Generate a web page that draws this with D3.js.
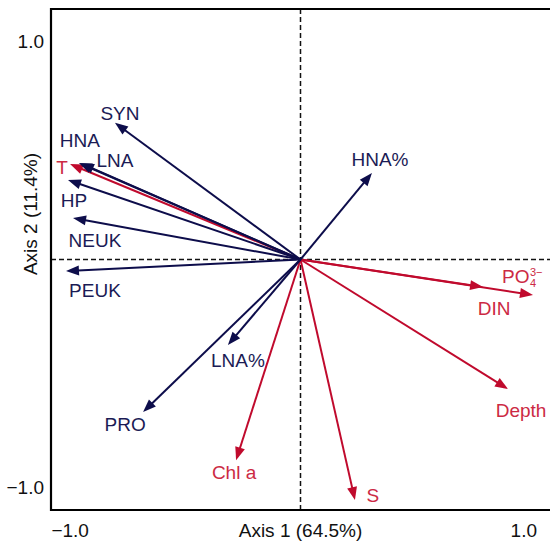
<!DOCTYPE html>
<html>
<head>
<meta charset="utf-8">
<script src="https://cdn.jsdelivr.net/npm/d3@7"></script>
<style>
  body { margin: 0; background: #fff; }
  text { font-family: "Liberation Sans", Arial, sans-serif; }
</style>
</head>
<body>
<div id="chart"></div>
<script>
// biological variables (navy arrows)
var bioNames = ["SYN", "HNA", "LNA", "HP", "NEUK", "PEUK", "HNA%", "LNA%", "PRO"];
var bioAxis1 = [-0.818, -0.977, -0.968, -1.025, -1.003, -1.034, 0.315, -0.320, -0.694];
var bioAxis2 = [0.600, 0.424, 0.422, 0.349, 0.182, -0.051, 0.380, -0.375, -0.670];

// environmental variables (red arrows)
var envNames = ["T", "PO4", "DIN", "Depth", "S", "Chl a"];
var envAxis1 = [-1.016, 1.025, 0.805, 0.915, 0.240, -0.284];
var envAxis2 = [0.419, -0.156, -0.121, -0.569, -1.056, -0.881];

var tickValues = [-1, 1];
var xTitle = "Axis 1 (64.5%)";
var yTitle = "Axis 2 (11.4%)";

// label placement relative to the arrow tip (dx, baseline dy)
var labelOffset = {
  "SYN": [5, -3], "HNA": [1, -16], "LNA": [34, 4], "HP": [6, 27],
  "NEUK": [22, 29], "PEUK": [29, 26], "HNA%": [8, -7], "LNA%": [10, 22],
  "PRO": [-18, 19], "T": [-8, 10], "PO4": [-31, -12], "DIN": [11, 28],
  "Depth": [13, 28], "S": [18, 2], "Chl a": [-2, 19]
};

var navy = "#0d0d4b", navyText = "#1b1b55";
var red = "#c00a2d", redText = "#cc2a44";

function drawArrows(svg, x, y, names, xs, ys, lineColor, textColor) {
  var data = names.map(function(n, i) { return {name: n, a1: xs[i], a2: ys[i]}; });
  var ox = x(0), oy = y(0);
  var headLen = 13, headHalf = 5;

  var g = svg.append("g").attr("class", "arrows");

  g.selectAll(".vec")
    .data(data)
    .enter()
    .append("line")
    .attr("class", "vec")
    .attr("x1", ox)
    .attr("y1", oy)
    .attr("x2", function(d) {
      var dx = x(d.a1) - ox, dy = y(d.a2) - oy, len = Math.sqrt(dx * dx + dy * dy);
      return x(d.a1) - dx / len * 7;
    })
    .attr("y2", function(d) {
      var dx = x(d.a1) - ox, dy = y(d.a2) - oy, len = Math.sqrt(dx * dx + dy * dy);
      return y(d.a2) - dy / len * 7;
    })
    .style("stroke", lineColor)
    .style("stroke-width", 2);

  g.selectAll(".head")
    .data(data)
    .enter()
    .append("path")
    .attr("class", "head")
    .attr("d", "M0,0L" + (-headLen) + "," + (-headHalf) + "L" + (-headLen) + "," + headHalf + "Z")
    .attr("transform", function(d) {
      var ang = Math.atan2(y(d.a2) - oy, x(d.a1) - ox) * 180 / Math.PI;
      return "translate(" + x(d.a1) + "," + y(d.a2) + ") rotate(" + ang + ")";
    })
    .style("fill", lineColor);

  data.forEach(function(d) {
    var off = labelOffset[d.name];
    var tx = x(d.a1) + off[0], ty = y(d.a2) + off[1];
    if (d.name === "PO4") {
      g.append("text")
        .attr("x", tx).attr("y", ty)
        .style("font-size", "19px").style("fill", textColor)
        .text("PO");
      g.append("text")
        .attr("x", tx + 28).attr("y", ty - 7)
        .style("font-size", "11px").style("fill", textColor)
        .text("3\u2212");
      g.append("text")
        .attr("x", tx + 28).attr("y", ty + 4)
        .style("font-size", "11px").style("fill", textColor)
        .text("4");
      return;
    }
    g.append("text")
      .attr("x", tx)
      .attr("y", ty)
      .style("text-anchor", "middle")
      .style("font-size", "19px")
      .style("fill", textColor)
      .text(d.name);
  });
}

function drawChart() {
  var width = 550, height = 543;
  var left = 51, right = 550, top = 9, bottom = 510;

  var x = d3.scaleLinear().domain([-1.1, 1.1]).range([left, right]);
  var y = d3.scaleLinear().domain([-1.1, 1.1]).range([bottom, top]);

  var svg = d3.select("#chart").append("svg")
      .attr("width", width)
      .attr("height", height);

  // dashed zero lines
  svg.append("line")
    .attr("x1", x(0)).attr("x2", x(0))
    .attr("y1", top).attr("y2", bottom)
    .style("stroke", "#111").style("stroke-width", 1.5)
    .style("stroke-dasharray", "5,3");
  svg.append("line")
    .attr("x1", left).attr("x2", right)
    .attr("y1", y(0)).attr("y2", y(0))
    .style("stroke", "#111").style("stroke-width", 1.5)
    .style("stroke-dasharray", "5,3");

  // frame (left, top, bottom)
  svg.append("path")
    .attr("d", "M" + right + "," + top + "H" + left + "V" + bottom + "H" + right)
    .style("fill", "none")
    .style("stroke", "#000")
    .style("stroke-width", 2.2);

  var fmt = d3.format(".1f");
  var xAxis = d3.axisBottom(x).tickValues(tickValues).tickSize(0).tickPadding(14).tickFormat(fmt);
  var yAxis = d3.axisLeft(y).tickValues(tickValues).tickSize(0).tickPadding(7).tickFormat(fmt);

  var gx = svg.append("g")
    .attr("class", "xAxis")
    .attr("transform", "translate(-4," + bottom + ")")
    .call(xAxis);
  var gy = svg.append("g")
    .attr("class", "yAxis")
    .attr("transform", "translate(" + left + ",0)")
    .call(yAxis);
  [gx, gy].forEach(function(g) {
    g.select(".domain").remove();
    g.selectAll("text")
      .style("font-family", "'Liberation Sans', Arial, sans-serif")
      .style("font-size", "19px")
      .style("fill", "#111");
  });
  // the top label sits a little lower in the original figure
  gy.selectAll(".tick text")
    .attr("y", function(d) { return d > 0 ? 10 : 0; });

  svg.append("text")
    .attr("x", x(0))
    .attr("y", 537)
    .style("text-anchor", "middle")
    .style("font-size", "19px")
    .style("fill", "#111")
    .text(xTitle);

  svg.append("text")
    .attr("transform", "translate(37," + 214 + ") rotate(-90)")
    .style("text-anchor", "middle")
    .style("font-size", "19px")
    .style("fill", "#111")
    .text(yTitle);

  drawArrows(svg, x, y, envNames, envAxis1, envAxis2, red, redText);
  drawArrows(svg, x, y, bioNames, bioAxis1, bioAxis2, navy, navyText);
}

drawChart();
</script>
</body>
</html>
